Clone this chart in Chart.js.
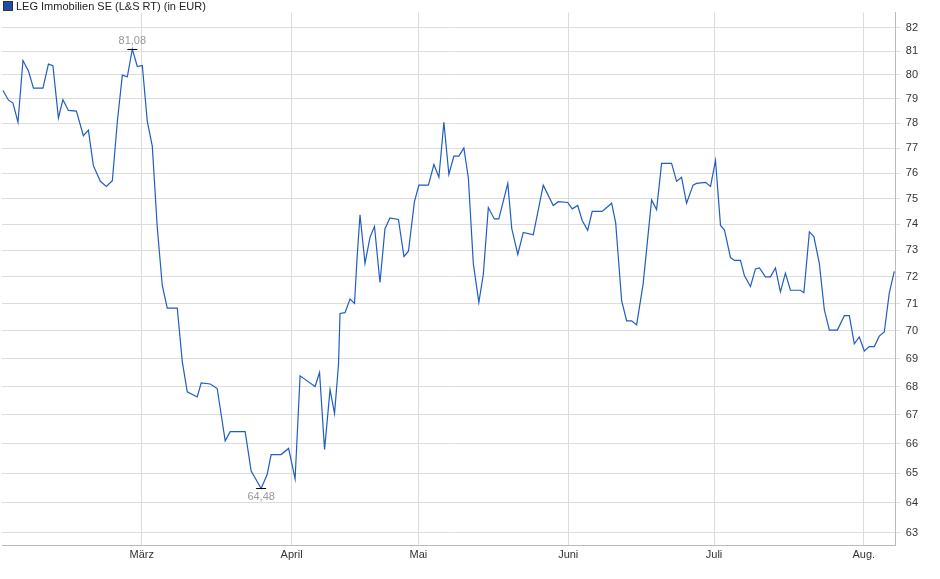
<!DOCTYPE html>
<html>
<head>
<meta charset="utf-8">
<script src="https://cdn.jsdelivr.net/npm/chart.js@4.4.0/dist/chart.umd.min.js"></script>
<style>
  html, body { margin: 0; padding: 0; background: #fff; }
  #wrap { width: 940px; height: 579px; position: relative; }
</style>
</head>
<body>
<div id="wrap"><canvas id="kursChart"></canvas></div>
<script>
// Zeitachse in Messpunkten, Kurse in EUR
const zeitpunkte = [0.2, 1.3, 2.2, 3.2, 4.2, 5.3, 6.3, 8.2, 9.3, 10.2, 11.3, 12.2, 13.3, 14.9, 16.3, 17.3, 18.3, 19.7, 20.9, 22.1,
  23.1, 24.1, 25.1, 26.1, 27.1, 28.1, 29.1, 30.1, 31.1, 32.1, 33.1, 35.1, 36.1, 37.1, 39.1, 39.9, 41.7, 43.1, 44.7, 45.7,
  48.7, 49.9, 51.9, 53.1, 53.9, 55.9, 57.4, 58.7, 59.7, 61.1, 62.7, 63.6, 64.6, 65.7, 66.6, 67.4, 67.7, 68.7, 69.7, 70.6,
  71.1, 71.7, 72.7, 73.7, 74.6, 75.7, 76.7, 77.7, 79.4, 80.5, 81.4, 82.6, 83.5, 85.4, 86.5, 87.5, 88.5, 89.5, 90.5, 91.5,
  92.5, 93.4, 94.4, 95.5, 96.4, 97.4, 98.6, 99.5, 101.3, 102.1, 103.3, 104.4, 106.4, 108.4, 110.4, 111.4, 113.3, 114.2, 115.3, 116.2,
  117.3, 118.2, 120.2, 122.1, 122.9, 124.1, 125.1, 126.1, 127.1, 128.4, 130.1, 131.1, 132.1, 134.1, 135.1, 136.1, 137.1, 138.4, 139.1, 140.9,
  141.9, 142.9, 143.9, 144.7, 145.9, 146.7, 147.9, 148.7, 149.9, 150.9, 151.7, 152.9, 153.9, 154.9, 155.9, 156.9, 157.9, 159.9, 160.6, 161.7,
  162.6, 163.7, 164.7, 165.7, 167.3, 168.7, 169.7, 170.7, 171.7, 172.7, 173.7, 174.7, 175.7, 176.7, 177.7, 178.7];

const kurse = [79.35, 78.95, 78.83, 78.05, 80.6, 80.16, 79.45, 79.45, 80.45, 80.38, 78.22, 78.97, 78.53, 78.5, 77.5, 77.73, 76.3, 75.68, 75.48, 75.7,
  78.08, 79.99, 79.92, 81.08, 80.35, 80.39, 78.08, 77.08, 73.87, 71.68, 70.84, 70.84, 68.9, 67.81, 67.63, 68.13, 68.09, 67.93, 66.1, 66.42,
  66.42, 65.07, 64.48, 64.95, 65.63, 65.63, 65.84, 64.8, 68.38, 68.2, 68.0, 68.5, 65.8, 67.89, 67.05, 68.8, 70.64, 70.67, 71.17, 71.01,
  72.68, 74.37, 72.51, 73.5, 73.92, 71.79, 73.83, 74.25, 74.19, 72.77, 72.97, 74.88, 75.53, 75.53, 76.35, 75.84, 78.05, 75.95, 76.68, 76.68,
  77.01, 75.81, 72.49, 71.05, 72.1, 74.65, 74.21, 74.21, 75.6, 73.83, 72.85, 73.69, 73.6, 75.53, 74.73, 74.88, 74.85, 74.6, 74.73, 74.15,
  73.77, 74.5, 74.5, 74.82, 74.07, 71.11, 70.37, 70.37, 70.22, 71.73, 74.95, 74.57, 76.39, 76.39, 75.68, 75.84, 74.82, 75.53, 75.6, 75.64,
  75.48, 76.51, 73.96, 73.78, 72.73, 72.62, 72.62, 72.04, 71.64, 72.3, 72.34, 72.0, 72.0, 72.34, 71.44, 72.14, 71.5, 71.5, 71.41, 73.71,
  73.53, 72.5, 70.77, 70.03, 70.03, 70.56, 70.56, 69.53, 69.78, 69.27, 69.43, 69.43, 69.81, 69.96, 71.39, 72.21];

const monatsPositionen = [28, 58, 83.4, 113.4, 142.6, 172.6];
const monatsNamen = ["März", "April", "Mai", "Juni", "Juli", "Aug."];
const yTicks = [63, 64, 65, 66, 67, 68, 69, 70, 71, 72, 73, 74, 75, 76, 77, 78, 79, 80, 81, 82];
const titel = "LEG Immobilien SE (L&S RT) (in EUR)";

const punkte = zeitpunkte.map((t, i) => ({ x: t, y: kurse[i] }));

// Hoch/Tief markieren und Legende oben links zeichnen
const extremPlugin = {
  id: "extrem",
  afterDatasetsDraw(chart) {
    const ctx = chart.ctx;
    const xs = chart.scales.x, ys = chart.scales.y;
    const max = Math.max(...kurse), min = Math.min(...kurse);
    const iMax = kurse.indexOf(max), iMin = kurse.indexOf(min);
    ctx.save();
    ctx.font = "11px Arial, 'Liberation Sans', sans-serif";
    ctx.textAlign = "center";
    [[iMax, max, -1], [iMin, min, 1]].forEach(([i, v, dir]) => {
      const px = xs.getPixelForValue(zeitpunkte[i]);
      const py = ys.getPixelForValue(v);
      ctx.strokeStyle = "#000";
      ctx.lineWidth = 1;
      ctx.beginPath();
      ctx.moveTo(px - 5, Math.round(py) + 0.5);
      ctx.lineTo(px + 5, Math.round(py) + 0.5);
      ctx.stroke();
      ctx.fillStyle = "#999";
      ctx.textBaseline = dir < 0 ? "bottom" : "top";
      ctx.fillText(v.toFixed(2).replace(".", ","), px, py + dir * 3);
    });
    // Legende
    ctx.fillStyle = "#1d4fa8";
    ctx.fillRect(4, 2, 8, 8);
    ctx.strokeStyle = "#333";
    ctx.strokeRect(3.5, 1.5, 9, 9);
    ctx.fillStyle = "#222";
    ctx.textAlign = "left";
    ctx.textBaseline = "middle";
    ctx.fillText(titel, 16, 6.5);
    ctx.restore();
  }
};

new Chart(document.getElementById("kursChart"), {
  type: "line",
  data: {
    datasets: [{
      label: titel,
      data: punkte,
      borderColor: "#1f5cc4",
      borderWidth: 1.2,
      pointRadius: 0,
      tension: 0,
      fill: false
    }]
  },
  options: {
    responsive: true,
    maintainAspectRatio: false,
    animation: false,
    layout: { padding: { top: 8, right: 16, left: 2, bottom: 14 } },
    plugins: { legend: { display: false }, tooltip: { enabled: false } },
    scales: {
      x: {
        type: "linear",
        min: 0,
        max: 179,
        afterBuildTicks: axis => { axis.ticks = monatsPositionen.map(v => ({ value: v })); },
        ticks: {
          autoSkip: false,
          maxRotation: 0,
          color: "#333",
          font: { size: 11, family: "Arial, 'Liberation Sans', sans-serif" },
          callback: (v, i) => monatsNamen[i]
        },
        grid: { color: "#dcdcdc", drawTicks: false },
        border: { color: "#bbb" }
      },
      y: {
        type: "logarithmic",
        position: "right",
        min: 62.58,
        max: 82.64,
        afterBuildTicks: axis => { axis.ticks = yTicks.map(v => ({ value: v })); },
        ticks: {
          autoSkip: false,
          color: "#333",
          padding: 6,
          font: { size: 11, family: "Arial, 'Liberation Sans', sans-serif" },
          callback: v => String(v)
        },
        grid: { color: "#dcdcdc", drawTicks: true, tickLength: 4 },
        border: { color: "#bbb" }
      }
    }
  },
  plugins: [extremPlugin]
});
</script>
</body>
</html>
